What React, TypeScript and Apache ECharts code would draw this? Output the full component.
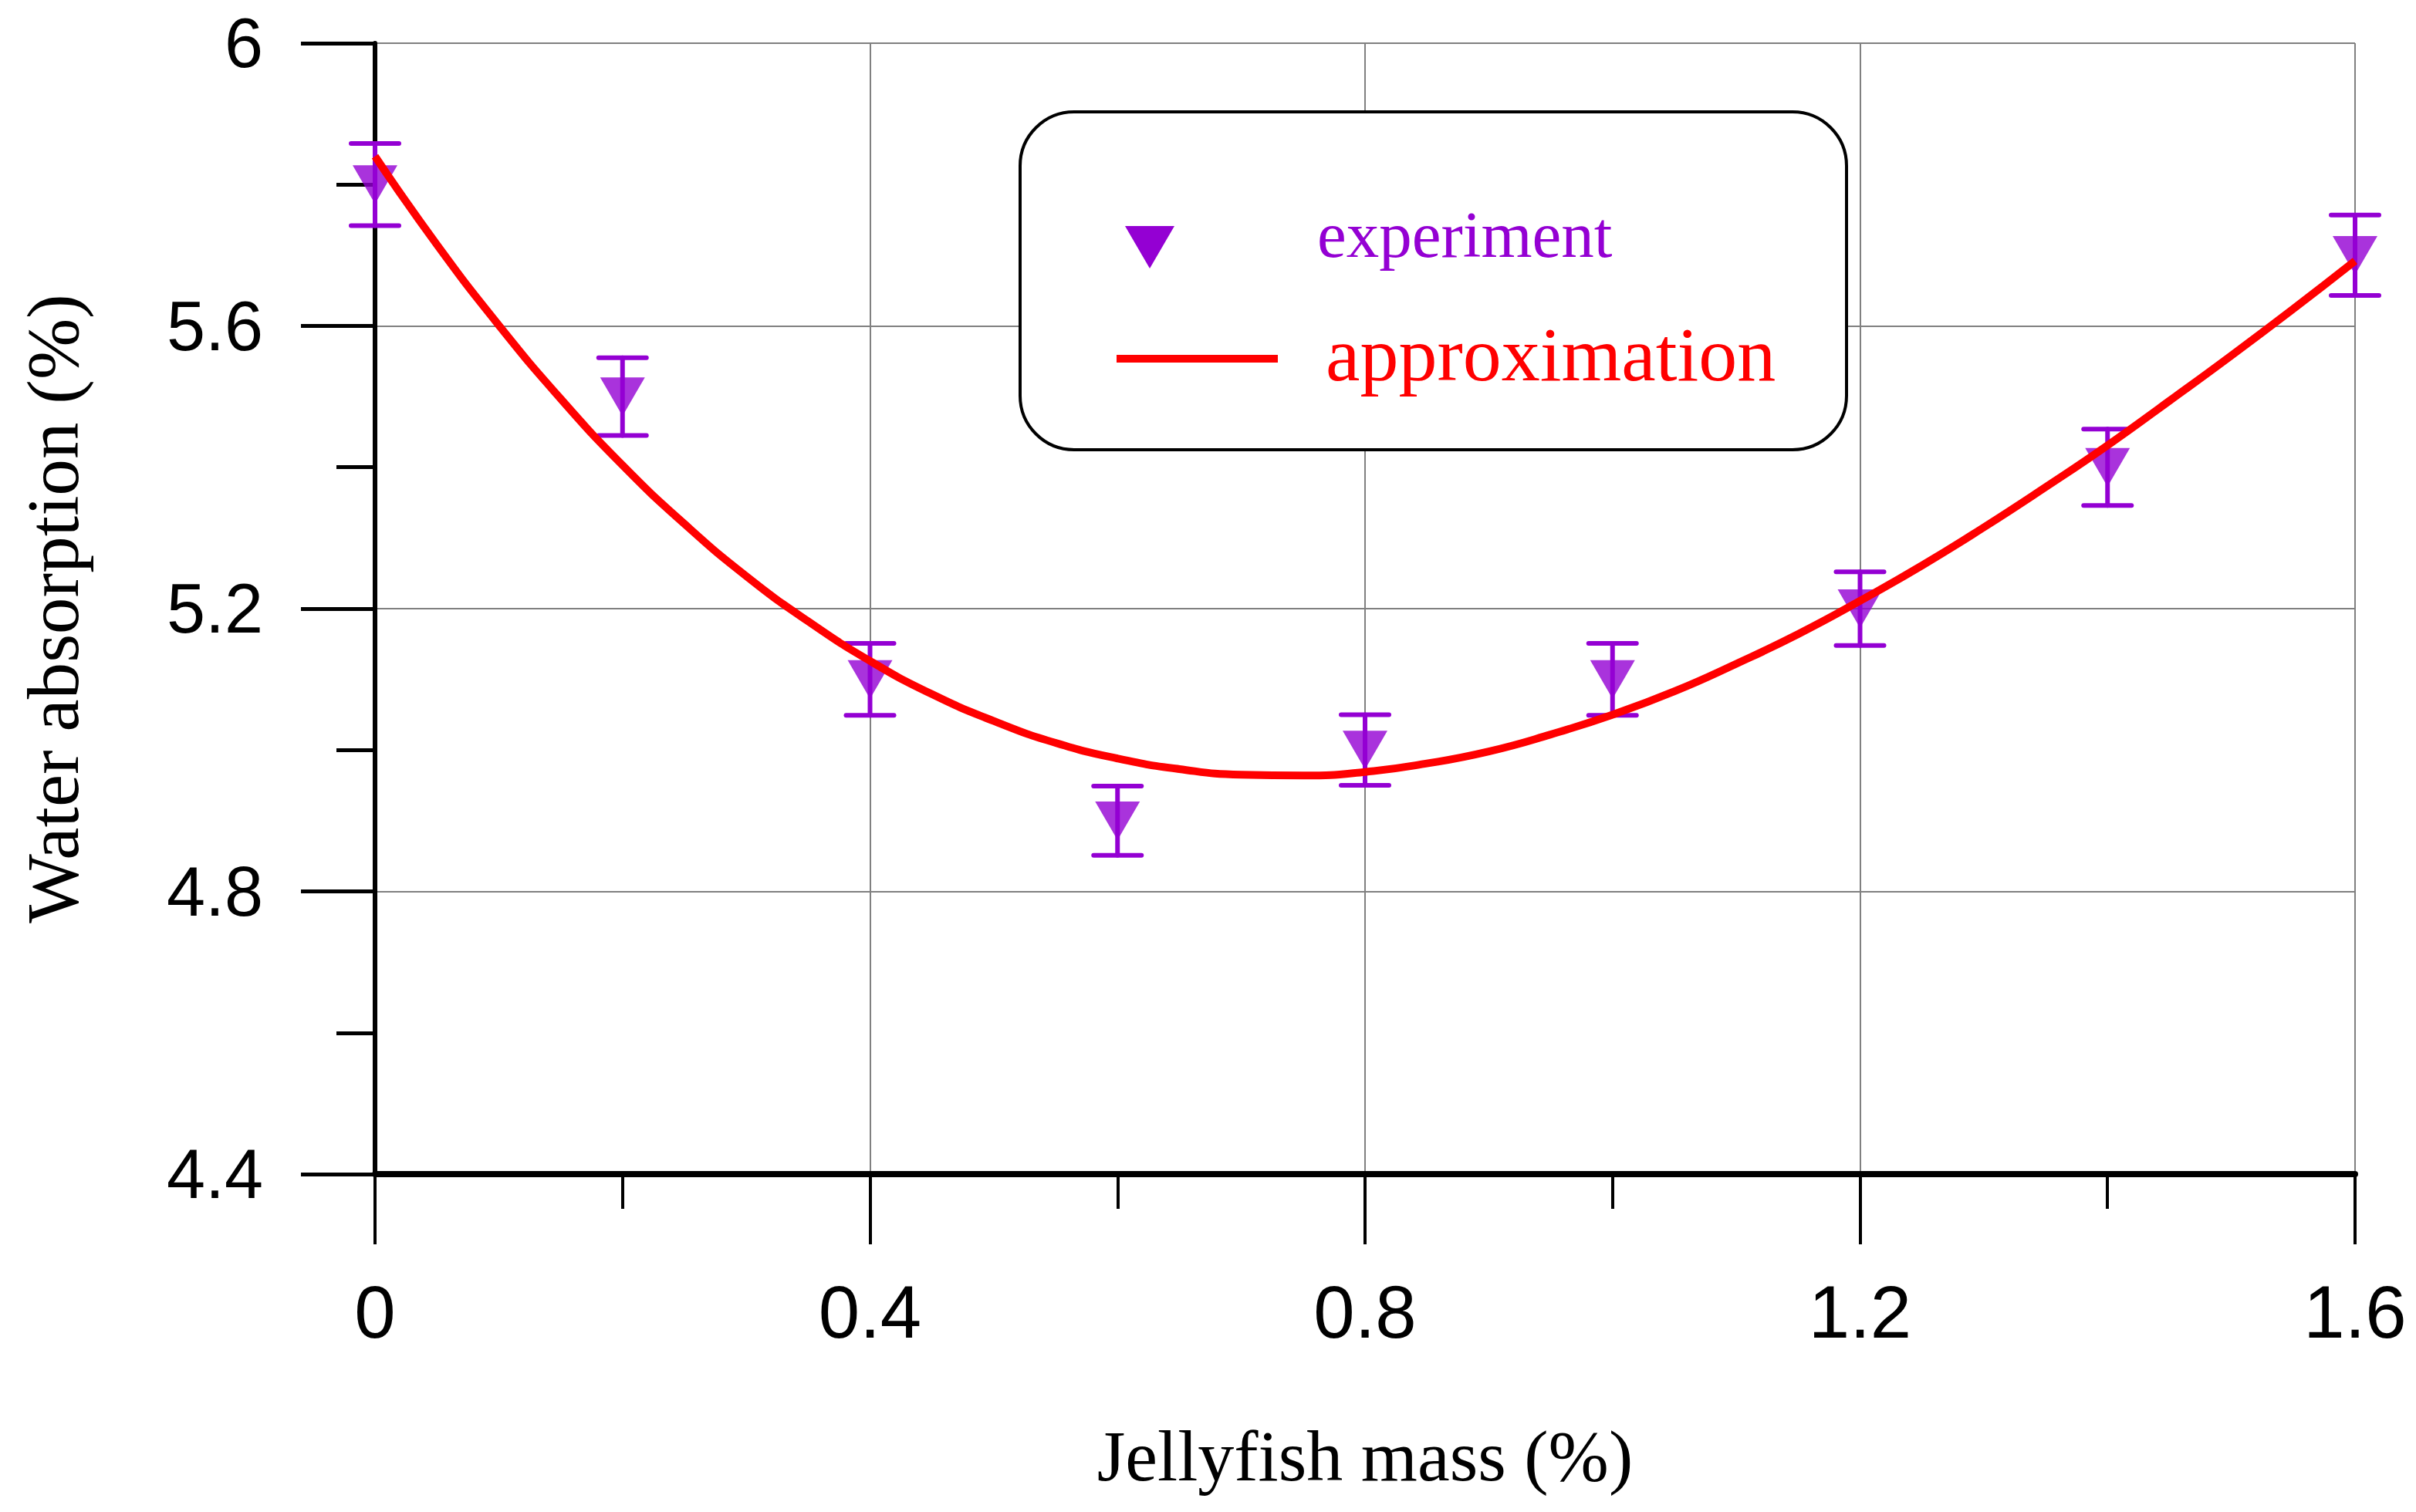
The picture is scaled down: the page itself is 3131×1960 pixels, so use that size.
import { useEffect, useRef } from 'react'
import * as echarts from 'echarts'

// experiment points (jellyfish mass %, water absorption %)
const massValues = [0, 0.2, 0.4, 0.6, 0.8, 1.0, 1.2, 1.4, 1.6]
const absorptionValues = [5.8, 5.5, 5.1, 4.9, 5.0, 5.1, 5.2, 5.4, 5.7]
const errorValues = [0.058, 0.055, 0.051, 0.049, 0.05, 0.051, 0.052, 0.054, 0.057]

// approximation curve, every 0.05
const fitMass = [
  0, 0.05, 0.1, 0.15, 0.2, 0.25, 0.3, 0.35, 0.4, 0.45, 0.5, 0.55, 0.6, 0.65, 0.7, 0.75, 0.8, 0.85,
  0.9, 0.95, 1.0, 1.05, 1.1, 1.15, 1.2, 1.25, 1.3, 1.35, 1.4, 1.45, 1.5, 1.55, 1.6
]
const fitAbsorption = [
  5.84, 5.715, 5.601, 5.497, 5.403, 5.32, 5.246, 5.182, 5.126, 5.079, 5.041, 5.01, 4.988, 4.973,
  4.965, 4.964, 4.969, 4.981, 4.998, 5.022, 5.05, 5.083, 5.122, 5.164, 5.211, 5.261, 5.315, 5.372,
  5.431, 5.494, 5.558, 5.624, 5.692
]

const xTickLabels = ['0', '0.4', '0.8', '1.2', '1.6']
const yTickLabels = ['4.4', '4.8', '5.2', '5.6', '6']

const PURPLE = '#9400D3'
const RED = '#FF0000'
const SANS = 'Liberation Sans, Arial, sans-serif'
const SERIF = 'Liberation Serif, Times New Roman, serif'

export default function App() {
  const chartRef = useRef<HTMLDivElement>(null)

  useEffect(() => {
    document.body.style.margin = '0'
    const host = chartRef.current
    if (!host) return
    const chart = echarts.init(host, null, { renderer: 'svg' })

    const option: echarts.EChartsOption = {
      animation: false,
      backgroundColor: '#fff',
      grid: { left: 486, right: 79, top: 56, bottom: 438 },
      xAxis: {
        type: 'value',
        min: 0,
        max: 1.6,
        interval: 0.4,
        name: 'Jellyfish mass (%)',
        nameLocation: 'middle',
        nameGap: 318,
        nameTextStyle: { fontFamily: SERIF, fontSize: 94, color: '#000' },
        axisLine: { show: true, onZero: false, lineStyle: { color: '#000', width: 8 } },
        axisTick: { show: true, length: 91, lineStyle: { color: '#000', width: 4 } },
        minorTick: { show: true, splitNumber: 2, length: 45, lineStyle: { color: '#000', width: 4 } },
        axisLabel: {
          margin: 130,
          fontSize: 96,
          fontFamily: SANS,
          color: '#000',
          formatter: (v: number) => xTickLabels[Math.round(v / 0.4)] ?? ''
        },
        splitLine: { show: true, lineStyle: { color: '#808080', width: 2 } }
      },
      yAxis: {
        type: 'value',
        min: 4.4,
        max: 6,
        interval: 0.4,
        name: 'Water absorption (%)',
        nameLocation: 'middle',
        nameGap: 370,
        nameTextStyle: { fontFamily: SERIF, fontSize: 95, color: '#000' },
        axisLine: { show: true, lineStyle: { color: '#000', width: 6 } },
        axisTick: { show: true, length: 96, lineStyle: { color: '#000', width: 5 } },
        minorTick: { show: true, splitNumber: 2, length: 50, lineStyle: { color: '#000', width: 5 } },
        axisLabel: {
          margin: 145,
          fontSize: 90,
          fontFamily: SANS,
          color: '#000',
          formatter: (v: number) => yTickLabels[Math.round((v - 4.4) / 0.4)] ?? ''
        },
        splitLine: { show: true, lineStyle: { color: '#808080', width: 2 } }
      },
      series: [
        {
          name: 'error',
          type: 'custom',
          z: 2,
          data: massValues.map((x, i) => [x, absorptionValues[i], errorValues[i]]),
          renderItem: (_params: any, api: any) => {
            const x = api.value(0)
            const y = api.value(1)
            const e = api.value(2)
            const top = api.coord([x, y + e])
            const bottom = api.coord([x, y - e])
            const half = 31
            const style = { stroke: PURPLE, lineWidth: 6, lineCap: 'round' }
            return {
              type: 'group',
              children: [
                { type: 'line', shape: { x1: top[0], y1: top[1], x2: bottom[0], y2: bottom[1] }, style },
                { type: 'line', shape: { x1: top[0] - half, y1: top[1], x2: top[0] + half, y2: top[1] }, style },
                {
                  type: 'line',
                  shape: { x1: bottom[0] - half, y1: bottom[1], x2: bottom[0] + half, y2: bottom[1] },
                  style
                }
              ]
            }
          }
        },
        {
          name: 'experiment',
          type: 'scatter',
          z: 3,
          symbol: 'triangle',
          symbolRotate: 180,
          symbolSize: [58, 50],
          itemStyle: { color: PURPLE },
          data: massValues.map((x, i) => [x, absorptionValues[i]])
        },
        {
          name: 'approximation',
          type: 'line',
          z: 4,
          smooth: true,
          showSymbol: false,
          lineStyle: { color: RED, width: 10 },
          data: fitMass.map((x, i) => [x, fitAbsorption[i]])
        }
      ],
      graphic: [
        {
          type: 'rect',
          z: 100,
          shape: { x: 1322, y: 145, width: 1071, height: 438, r: 70 },
          style: { fill: '#fff', stroke: '#000', lineWidth: 4 }
        },
        {
          type: 'polygon',
          z: 101,
          shape: { points: [[1458, 293], [1522, 293], [1490, 348]] },
          style: { fill: PURPLE }
        },
        {
          type: 'text',
          z: 101,
          x: 1707,
          y: 304,
          style: {
            text: 'experiment',
            fill: PURPLE,
            font: `85px ${SERIF}`,
            verticalAlign: 'middle'
          }
        },
        {
          type: 'line',
          z: 101,
          shape: { x1: 1447, y1: 465, x2: 1656, y2: 465 },
          style: { stroke: RED, lineWidth: 10 }
        },
        {
          type: 'text',
          z: 101,
          x: 1718,
          y: 459,
          style: {
            text: 'approximation',
            fill: RED,
            font: `100px ${SERIF}`,
            verticalAlign: 'middle'
          }
        }
      ]
    }

    chart.setOption(option)
    return () => chart.dispose()
  }, [])

  return <div ref={chartRef} style={{ width: 3131, height: 1960 }} />
}
